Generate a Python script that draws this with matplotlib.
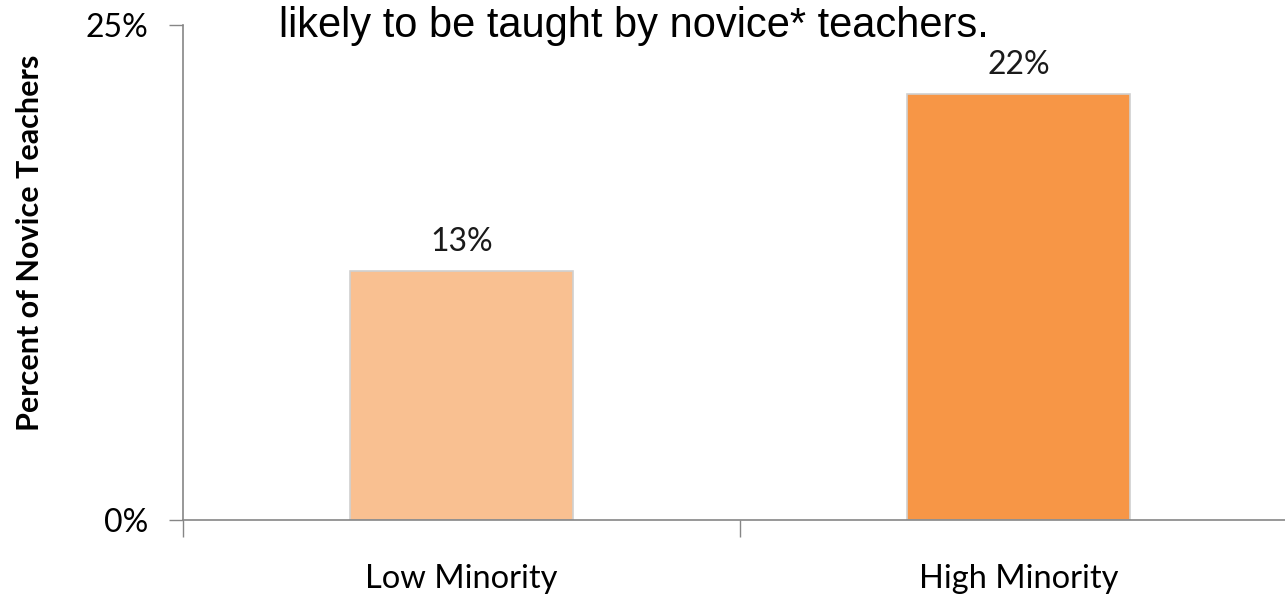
import matplotlib.pyplot as plt
import numpy as np

categories = ["Low Minority", "High Minority"]
values = [12.6, 21.5]
colors = ["#F9C091", "#F79646"]
title = "likely to be taught by novice* teachers."
ylabel = "Percent of Novice Teachers"

fig = plt.figure(figsize=(12.85, 5.94), dpi=100)
ax = fig.add_axes([183 / 1285, 74 / 594, 1114 / 1285, 495 / 594])

x = np.arange(len(categories)) + 0.5
ax.bar(x, values, width=0.4, color=colors, edgecolor="#d0d0d0", linewidth=1.2)
for xi, v in zip(x, values):
    ax.text(xi, v + 0.7, f"{v:.0f}%", ha="center", va="bottom",
            fontsize=23, family="Lato", color="#1a1a1a")

ax.set_xlim(0, 2)
ax.set_ylim(0, 25)
ax.set_yticks([0, 25])
ax.set_yticklabels(["0%", "25%"], family="Lato", fontsize=23)
ax.set_xticks([0, 1, 2])
ax.set_xticklabels([])
ax.tick_params(axis="x", length=12, color="#868686", width=1)
ax.tick_params(axis="y", length=10, color="#868686", width=1, pad=15)
for xi, c in zip(x, categories):
    ax.text(xi, -3.0, c, ha="center", va="center", fontsize=23.5, family="Lato",
            transform=ax.transData, clip_on=False)

for s in ["top", "right"]:
    ax.spines[s].set_visible(False)
for s in ["left", "bottom"]:
    ax.spines[s].set_color("#868686")
    ax.spines[s].set_linewidth(1.2)

fig.text(30 / 1285, 1 - 243 / 594, ylabel, rotation=90, ha="center", va="center",
         fontsize=22, fontweight="bold", family="Lato")
fig.text(634 / 1285, 1 - 37 / 594, title, ha="center", va="baseline",
         fontsize=30, family=["Liberation Sans", "DejaVu Sans"])

fig.savefig("out.png", dpi=100)
